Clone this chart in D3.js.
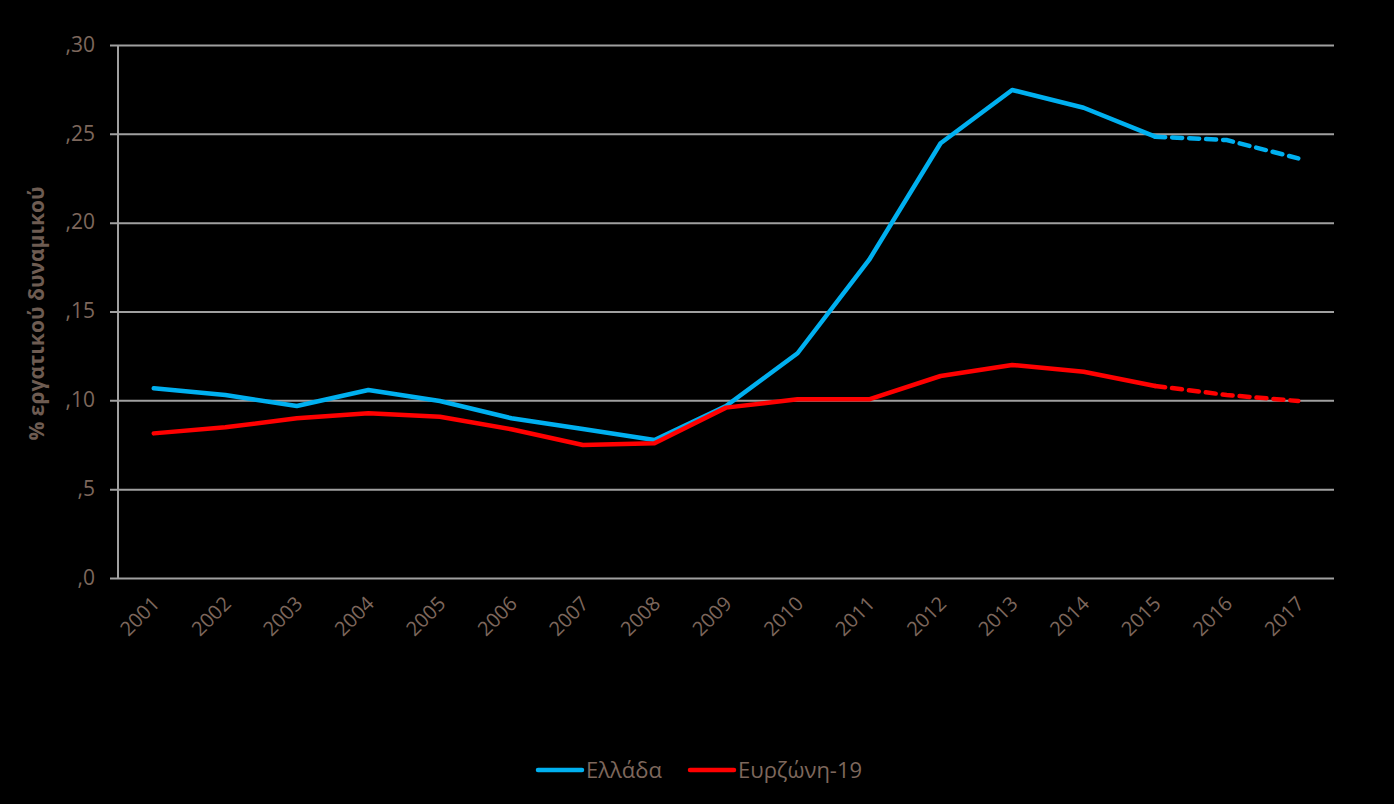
<!DOCTYPE html>
<html>
<head>
<meta charset="utf-8">
<script src="https://cdn.jsdelivr.net/npm/d3@7"></script>
<style>
	body { margin: 0; background: #000; }
	svg { display: block; }
	text { font-family: "Open Sans", "DejaVu Sans", sans-serif; }
</style>
</head>
<body>
<div id="chart"></div>
<script>
var years = ['2001', '2002', '2003', '2004', '2005', '2006', '2007', '2008', '2009',
	'2010', '2011', '2012', '2013', '2014', '2015', '2016', '2017'];
var greece = [0.1068, 0.1030, 0.0968, 0.1058, 0.0996, 0.0899, 0.0839, 0.0777, 0.0968,
	0.1265, 0.1790, 0.2447, 0.2747, 0.2647, 0.2484, 0.2465, 0.2362];
var eurozone = [0.0814, 0.0848, 0.0899, 0.0927, 0.0908, 0.0837, 0.0749, 0.0758, 0.0959,
	0.1006, 0.1006, 0.1137, 0.1199, 0.1161, 0.1081, 0.1030, 0.0996];
var yTicks = [0, 0.05, 0.10, 0.15, 0.20, 0.25, 0.30];
var yTickLabels = [',0', ',5', ',10', ',15', ',20', ',25', ',30'];
var seriesNames = ['Ελλάδα', 'Ευρζώνη-19'];
var seriesColors = ['#00b0f0', '#ff0000'];
var forecastFrom = '2015';

var width = 1394, height = 804;
var margin = { left: 118, right: 60, top: 45, bottom: 226 };
var textColor = '#7d675c';

var svg = d3.select('#chart').append('svg')
	.attr('width', width)
	.attr('height', height);

var x = d3.scaleBand()
	.domain(years)
	.range([margin.left, width - margin.right]);

var y = d3.scaleLinear()
	.domain([0, 0.30])
	.range([height - margin.bottom, margin.top]);

// gridlines + y labels
var yAxis = d3.axisLeft(y)
	.tickValues(yTicks)
	.tickSize(-(width - margin.right - margin.left))
	.tickFormat(function (d, i) { return yTickLabels[i]; });

var gy = svg.append('g')
	.attr('transform', 'translate(' + margin.left + ',0)')
	.call(yAxis);
gy.select('.domain').remove();
gy.selectAll('.tick line')
	.attr('x1', -8)
	.attr('stroke', '#a0a0a0')
	.attr('stroke-width', 2);
gy.selectAll('.tick text')
	.attr('fill', textColor)
	.style('font-size', '21px')
	.attr('x', -23)
	.attr('dy', '0.3em');

// left axis line
svg.append('line')
	.attr('x1', margin.left).attr('x2', margin.left)
	.attr('y1', y(0.30)).attr('y2', y(0))
	.attr('stroke', '#a0a0a0')
	.attr('stroke-width', 2);

// x labels
var xAxis = d3.axisBottom(x).tickSize(0).tickPadding(0);
var gx = svg.append('g')
	.attr('transform', 'translate(0,' + y(0) + ')')
	.call(xAxis);
gx.select('.domain').remove();
gx.selectAll('.tick text')
	.attr('fill', textColor)
	.style('font-size', '20px')
	.attr('text-anchor', 'end')
	.attr('dy', null)
	.attr('transform', 'translate(7,27) rotate(-45)');

// y axis title
svg.append('text')
	.attr('transform', 'translate(44,' + ((y(0.30) + y(0)) / 2 + 2) + ') rotate(-90)')
	.attr('text-anchor', 'middle')
	.attr('fill', '#6e5c52')
	.style('font-size', '21px')
	.style('font-weight', 'bold')
	.text('% εργατικού δυναμικού');

// lines
var line = d3.line()
	.x(function (d) { return x(d.year) + x.bandwidth() / 2; })
	.y(function (d) { return y(d.value); });

var cut = years.indexOf(forecastFrom);
[greece, eurozone].forEach(function (values, s) {
	var pts = values.map(function (v, i) { return { year: years[i], value: v }; });
	svg.append('path')
		.datum(pts.slice(0, cut + 1))
		.attr('d', line)
		.attr('fill', 'none')
		.attr('stroke', seriesColors[s])
		.attr('stroke-width', 4.5)
		.attr('stroke-linejoin', 'round')
		.attr('stroke-linecap', 'round');
	svg.append('path')
		.datum(pts.slice(cut))
		.attr('d', line)
		.attr('fill', 'none')
		.attr('stroke', seriesColors[s])
		.attr('stroke-width', 4.5)
		.attr('stroke-dasharray', '10,7')
		.attr('stroke-linecap', 'round');
});

// legend
var legendX = [538, 690];
var legend = svg.append('g');
seriesNames.forEach(function (name, i) {
	legend.append('line')
		.attr('x1', legendX[i]).attr('x2', legendX[i] + 44)
		.attr('y1', 770).attr('y2', 770)
		.attr('stroke', seriesColors[i])
		.attr('stroke-width', 4.5)
		.attr('stroke-linecap', 'round');
	legend.append('text')
		.attr('x', legendX[i] + 48)
		.attr('y', 778)
		.attr('fill', textColor)
		.style('font-size', '22px')
		.text(name);
});
</script>
</body>
</html>
